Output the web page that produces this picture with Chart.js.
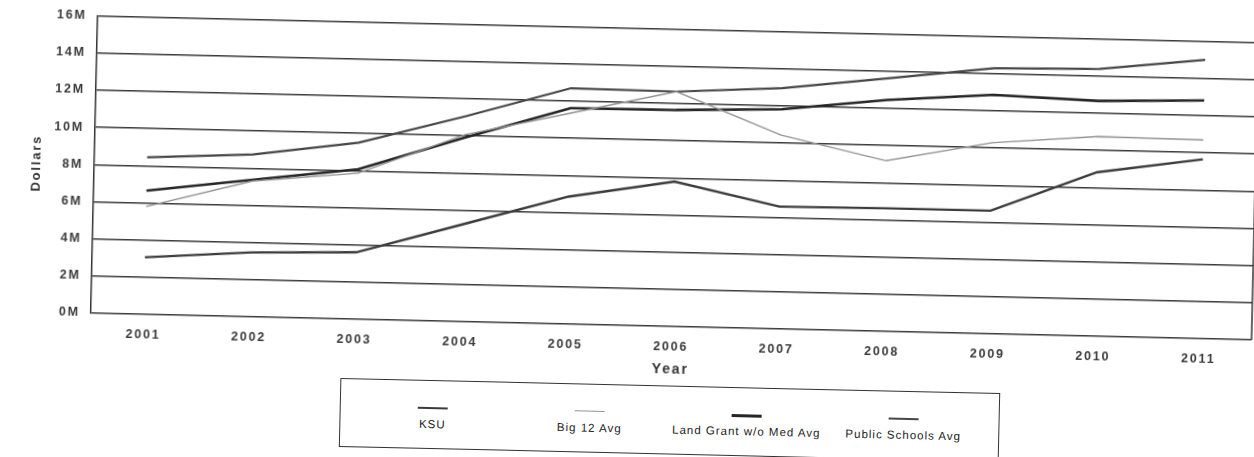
<!DOCTYPE html>
<html>
<head>
<meta charset="utf-8">
<script src="https://cdn.jsdelivr.net/npm/chart.js@4.4.1/dist/chart.umd.min.js"></script>
<style>
  html, body { margin:0; padding:0; background:#fff; overflow:hidden; width:1254px; height:457px; }
  #wrap { position:absolute; left:0; top:0; width:1262px; height:470px; transform:rotate(1.318deg); transform-origin:0 0; }
  #c { position:absolute; left:0; top:0; }
  #legend { position:absolute; left:349px; top:370px; width:660px; height:69px; border:1.5px solid #333; box-sizing:border-box; background:#fff; }
  .li { position:absolute; top:0; width:157px; height:60px; margin-left:-78.5px; }
  .ln { position:absolute; left:63.5px; width:30px; top:26px; }
  .lt { position:absolute; left:-20px; right:-20px; top:37px; text-align:center; font-family:"Liberation Sans", Arial, sans-serif; font-size:11.5px; letter-spacing:1px; color:#222; white-space:nowrap; }
</style>
</head>
<body>
<div id="wrap">
  <canvas id="c" width="1262" height="366"></canvas>
  <div id="legend"></div>
</div>
<script>
// ---- data ----
const years = ['2001','2002','2003','2004','2005','2006','2007','2008','2009','2010','2011'];
const ksu        = [3.07, 3.46, 3.60, 5.23, 6.86, 7.80, 6.58, 6.62, 6.62, 8.82, 9.65];
const big12Avg   = [5.80, 7.30, 7.86, 10.05, 11.35, 12.64, 10.43, 9.18, 10.28, 10.74, 10.69];
const landGrant  = [6.66, 7.37, 8.07, 9.90, 11.62, 11.65, 11.82, 12.45, 12.85, 12.66, 12.81];
const publicAvg  = [8.45, 8.73, 9.50, 11.04, 12.69, 12.64, 12.95, 13.61, 14.29, 14.38, 15.00];
const seriesNames = ['KSU', 'Big 12 Avg', 'Land Grant w/o Med Avg', 'Public Schools Avg'];
const yTickValues = [0, 2, 4, 6, 8, 10, 12, 14, 16];
const yTickLabels = ['0M','2M','4M','6M','8M','10M','12M','14M','16M'];

const colors = ['#3c3c3c', '#939393', '#262626', '#474747'];
const widths = [2.4, 1.4, 2.6, 2.2];
const values = [ksu, big12Avg, landGrant, publicAvg];

const spacing = {
  id: 'spacing',
  beforeUpdate(chart) { chart.ctx.letterSpacing = '1.8px'; },
  beforeDraw(chart) { chart.ctx.letterSpacing = '1.8px'; },
  afterDatasetsDraw(chart) {
    const {ctx, chartArea} = chart;
    ctx.save();
    ctx.strokeStyle = '#333';
    ctx.lineWidth = 1.5;
    ctx.beginPath();
    ctx.moveTo(chartArea.right, chartArea.top);
    ctx.lineTo(chartArea.right, chartArea.bottom);
    ctx.stroke();
    ctx.restore();
  }
};

const FAM = '"Liberation Sans", Arial, sans-serif';
function noPad(s) { s.paddingTop = 0; s.paddingBottom = 0; s.paddingLeft = 0; s.paddingRight = 0; }

const chart = new Chart(document.getElementById('c'), {
  type: 'line',
  data: {
    labels: years,
    datasets: values.map((v, i) => ({
      label: seriesNames[i],
      data: v,
      borderColor: colors[i],
      backgroundColor: colors[i],
      borderWidth: widths[i],
      pointRadius: 0,
      tension: 0,
      fill: false
    }))
  },
  options: {
    responsive: false,
    animation: false,
    devicePixelRatio: 1,
    layout: { padding: { top: 13.5, right: 3, left: 0, bottom: 0 } },
    plugins: { legend: { display: false }, tooltip: { enabled: false } },
    scales: {
      x: {
        offset: true,
        grid: { display: false, drawTicks: false },
        border: { display: false },
        ticks: { color: '#3a3a3a', padding: 13, maxRotation: 0, autoSkip: false,
                 font: { family: FAM, size: 12.5, weight: 'bold' } },
        title: { display: true, text: 'Year', color: '#333', padding: { top: 0, bottom: 3 },
                 font: { family: FAM, size: 14, weight: 'bold' } },
        afterFit(s) { s.height = 55; noPad(s); }
      },
      y: {
        min: 0, max: 16,
        afterBuildTicks(s) { s.ticks = yTickValues.map(v => ({ value: v })); },
        grid: { color: '#3a3a3a', lineWidth: 1.5, drawTicks: false },
        border: { display: true, color: '#333', width: 1.5 },
        ticks: { color: '#3a3a3a', padding: 11,
                 callback: (v) => yTickLabels[yTickValues.indexOf(v)],
                 font: { family: FAM, size: 12.5, weight: 'bold' } },
        title: { display: true, text: 'Dollars', color: '#333', padding: { top: 33, bottom: 0 },
                 font: { family: FAM, size: 13, weight: 'bold' } },
        afterFit(s) { s.width = 98; noPad(s); }
      }
    }
  },
  plugins: [spacing]
});

// legend built from the chart's own datasets
const lg = document.getElementById('legend');
const centers = [92, 249, 406, 563];
chart.data.datasets.forEach((ds, i) => {
  const item = document.createElement('div');
  item.className = 'li';
  item.style.left = centers[i] + 'px';
  const ln = document.createElement('div');
  ln.className = 'ln';
  ln.style.height = ds.borderWidth + 'px';
  ln.style.background = ds.borderColor;
  const t = document.createElement('div');
  t.className = 'lt';
  t.textContent = ds.label;
  item.appendChild(ln);
  item.appendChild(t);
  lg.appendChild(item);
});
</script>
</body>
</html>
